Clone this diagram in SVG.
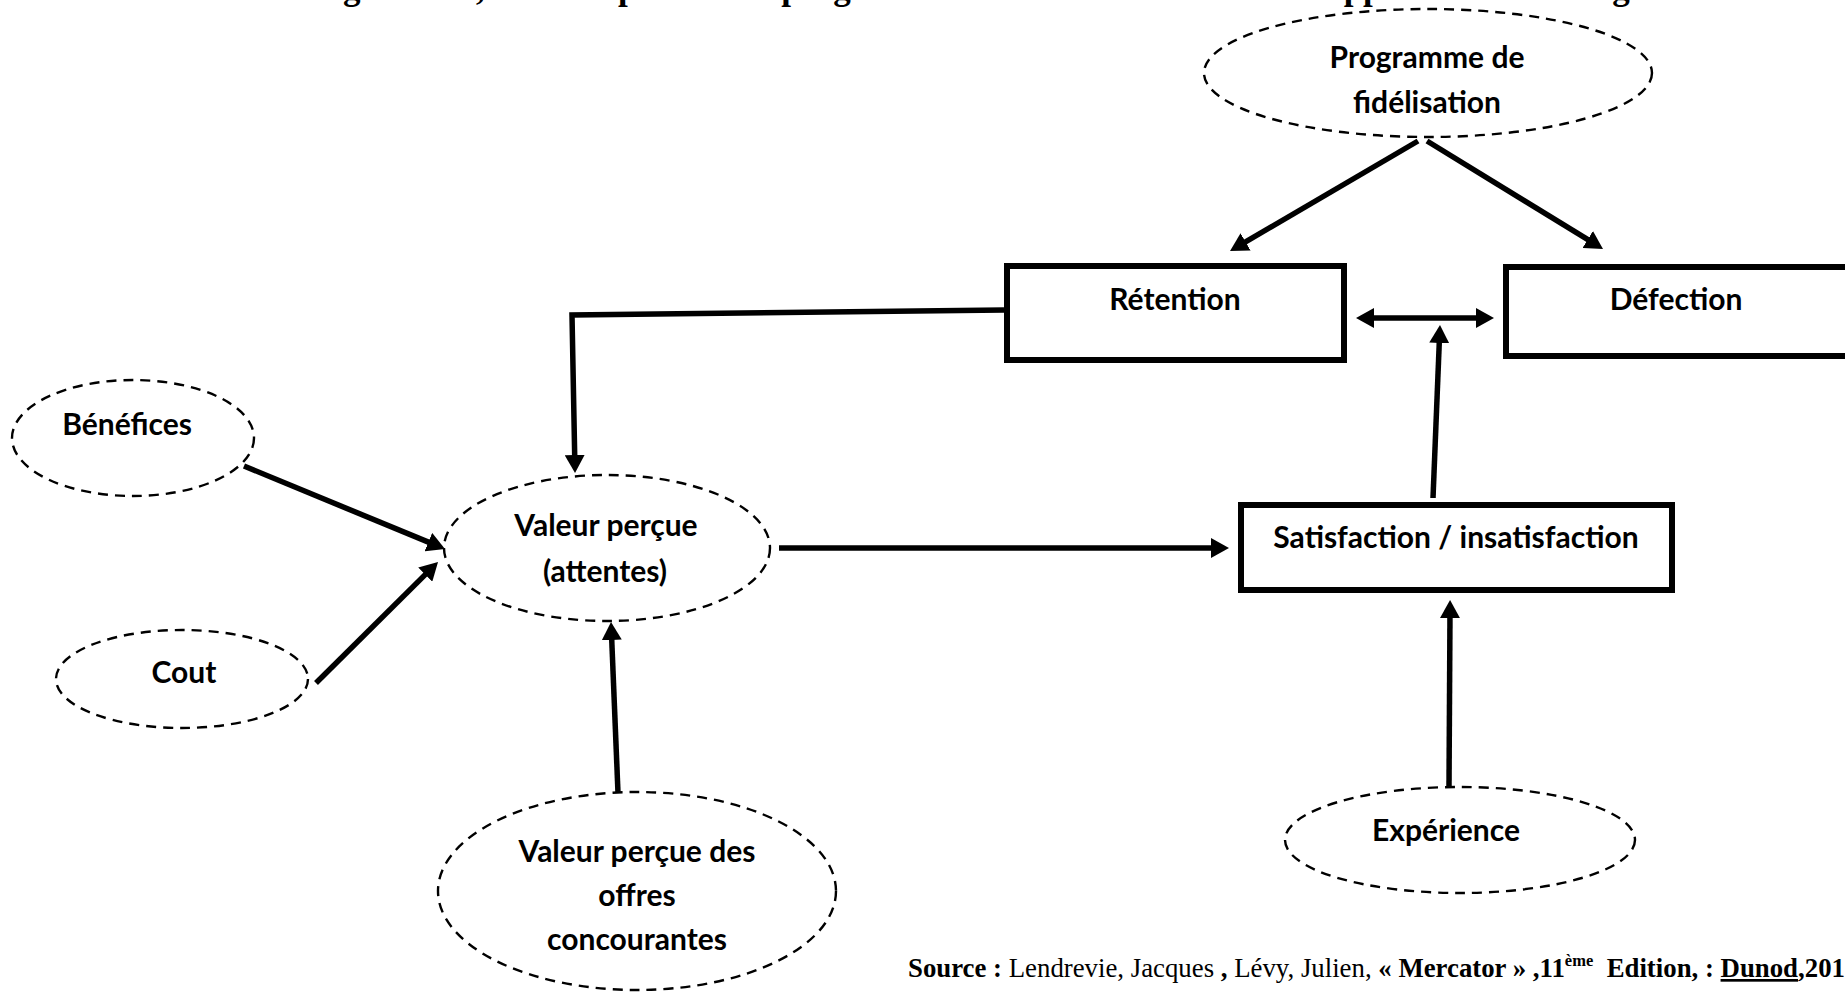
<svg xmlns="http://www.w3.org/2000/svg" width="1845" height="994" viewBox="0 0 1845 994">
  <defs>
    <marker id="head" viewBox="0 0 18 20" refX="6" refY="10" markerWidth="18" markerHeight="20" markerUnits="userSpaceOnUse" orient="auto-start-reverse">
      <path d="M0,0 L18,10 L0,20 z" fill="#000"/>
    </marker>
    <style>
      .oval { fill: none; stroke: #000; stroke-width: 2.4; stroke-dasharray: 10 7; }
      .box { fill: #fff; stroke: #000; stroke-width: 6; }
      .lbl { font-family: Lato, "Noto Sans", sans-serif; font-weight: 700; font-size: 30px; fill: #000; text-anchor: middle; }
      .link { fill: none; stroke: #000; stroke-width: 5.5; marker-end: url(#head); }
      .serif { font-family: "Liberation Serif", "Times New Roman", serif; fill: #000; }
    </style>
  </defs>
  <rect width="1845" height="994" fill="#fff"/>

  <!-- figure caption, clipped by the top edge -->
  <text class="serif" x="312" y="-1" font-size="35" font-weight="700">Figure N°1, Mise en place d'un programme de fidélisation dans une approche marketing de la valeur</text>

  <g id="connectors">
    <line class="link" x1="1418" y1="141" x2="1240.4" y2="244.9"/>
    <line class="link" x1="1427" y1="141" x2="1592.8" y2="242.7"/>
    <line class="link" x1="1368" y1="318" x2="1482" y2="318" marker-start="url(#head)"/>
    <line class="link" x1="1433" y1="498" x2="1439.5" y2="337"/>
    <polyline class="link" points="1004,310 572,315 574.8,461"/>
    <line class="link" x1="244" y1="466" x2="433.9" y2="544.4"/>
    <line class="link" x1="316" y1="683" x2="429.5" y2="570.4"/>
    <line class="link" x1="618" y1="793" x2="611.5" y2="634"/>
    <line class="link" x1="779" y1="548" x2="1217" y2="548"/>
    <line class="link" x1="1449" y1="786" x2="1450" y2="612"/>
  </g>

  <g id="programme">
    <ellipse class="oval" cx="1428" cy="73" rx="224" ry="64"/>
    <text class="lbl" x="1427" y="68">Programme de</text>
    <text class="lbl" x="1427" y="113">fidélisation</text>
  </g>

  <g id="retention">
    <rect class="box" x="1007" y="266" width="337" height="94"/>
    <text class="lbl" x="1175" y="310">Rétention</text>
  </g>

  <g id="defection">
    <rect class="box" x="1506" y="267" width="345" height="89"/>
    <text class="lbl" x="1676" y="310">Défection</text>
  </g>

  <g id="satisfaction">
    <rect class="box" x="1241" y="505" width="431" height="85"/>
    <text class="lbl" x="1456" y="548">Satisfaction / insatisfaction</text>
  </g>

  <g id="benefices">
    <ellipse class="oval" cx="133" cy="438" rx="121" ry="58"/>
    <text class="lbl" x="127" y="435">Bénéfices</text>
  </g>

  <g id="cout">
    <ellipse class="oval" cx="182" cy="679" rx="126" ry="49"/>
    <text class="lbl" x="184" y="683">Cout</text>
  </g>

  <g id="valeur-percue">
    <ellipse class="oval" cx="607" cy="548" rx="163" ry="73"/>
    <text class="lbl" x="606" y="536">Valeur perçue</text>
    <text class="lbl" x="605" y="582">(attentes)</text>
  </g>

  <g id="offres-concourantes">
    <ellipse class="oval" cx="637" cy="891" rx="199" ry="99"/>
    <text class="lbl" x="637" y="862">Valeur perçue des</text>
    <text class="lbl" x="637" y="906">offres</text>
    <text class="lbl" x="637" y="950">concourantes</text>
  </g>

  <g id="experience">
    <ellipse class="oval" cx="1460" cy="840" rx="175" ry="53"/>
    <text class="lbl" x="1446" y="841">Expérience</text>
  </g>

  <!-- bibliographic source -->
  <text class="serif" x="908" y="977" font-size="26.8"><tspan font-weight="700">Source :</tspan> Lendrevie, Jacques <tspan font-weight="700">,</tspan> Lévy, Julien, <tspan font-weight="700">« Mercator » ,11</tspan><tspan font-weight="700" font-size="16.5" dy="-11">ème</tspan><tspan font-weight="700" dy="11" xml:space="preserve">  Edition, : </tspan><tspan font-weight="700" text-decoration="underline">Dunod</tspan><tspan font-weight="700">,201</tspan></text>
</svg>
